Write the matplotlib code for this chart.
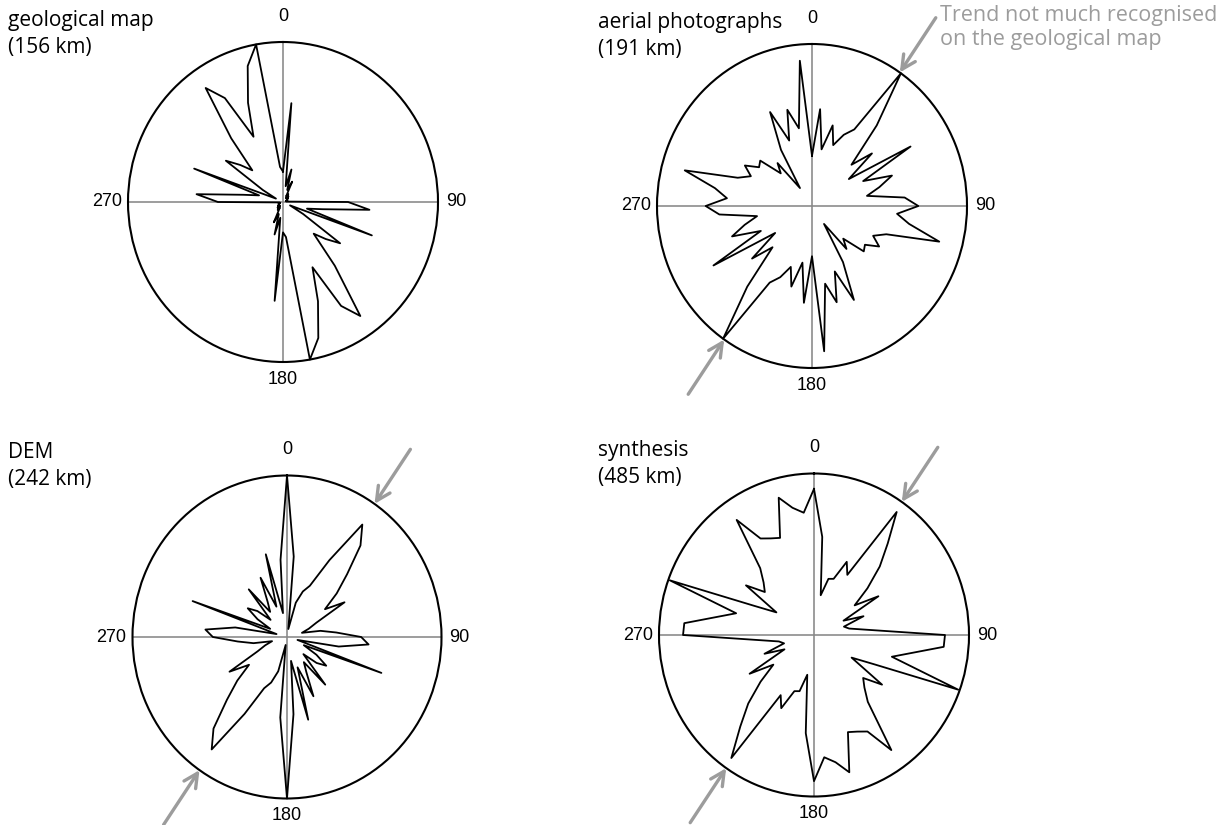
import numpy as np
import matplotlib

matplotlib.use("Agg")
import matplotlib.pyplot as plt

# direction bins (degrees, clockwise from north); roses are bidirectional
direction_bins = [0, 5, 10, 15, 20, 25, 30, 35, 40, 45, 50, 55, 60, 65, 70, 75, 80, 85,
                  90, 95, 100, 105, 110, 115, 120, 125, 130, 135, 140, 145, 150, 155, 160, 165, 170, 175]

# normalised length per bin (outer circle = 1)
geological_map = [0.19, 0.62, 0.10, 0.21, 0.08, 0.14, 0.04, 0.06, 0.03, 0.05, 0.03, 0.04,
                  0.03, 0.03, 0.02, 0.03, 0.02, 0.03, 0.42, 0.56, 0.26, 0.16, 0.61, 0.05,
                  0.15, 0.45, 0.36, 0.28, 0.52, 0.87, 0.75, 0.45, 0.66, 0.88, 1.00, 0.22]
aerial_photographs = [0.31, 0.60, 0.355, 0.515, 0.40, 0.485, 0.546, 1.00, 0.65, 0.36, 0.505, 0.29,
                      0.734, 0.364, 0.549, 0.45, 0.36, 0.60, 0.686, 0.551, 0.636, 0.85, 0.51, 0.435,
                      0.50, 0.417, 0.436, 0.285, 0.346, 0.135, 0.40, 0.64, 0.43, 0.615, 0.487, 0.90]
dem = [1.00, 0.50, 0.05, 0.22, 0.30, 0.35, 0.55, 0.85, 0.74, 0.55, 0.42, 0.30,
       0.43, 0.21, 0.15, 0.10, 0.22, 0.32, 0.48, 0.53, 0.34, 0.07, 0.65, 0.12,
       0.22, 0.31, 0.25, 0.15, 0.385, 0.19, 0.25, 0.405, 0.20, 0.53, 0.15, 0.48]
synthesis = [0.905, 0.61, 0.25, 0.36, 0.37, 0.50, 0.43, 0.93, 0.74, 0.60, 0.45, 0.32,
             0.48, 0.21, 0.34, 0.20, 0.23, 0.36, 0.845, 0.84, 0.64, 0.52, 0.99, 0.43,
             0.28, 0.536, 0.414, 0.46, 0.54, 0.87, 0.69, 0.66, 0.64, 0.88, 0.80, 0.76]

titles = ["geological map\n(156 km)", "aerial photographs\n(191 km)",
          "DEM\n(242 km)", "synthesis\n(485 km)"]
axis_labels = ["0", "90", "180", "270"]
trend_direction = 34.5
trend_note = "Trend not much recognised\non the geological map"

W, H = 1230, 825
GRAY = "#9c9c9c"

fig = plt.figure(figsize=(W / 100, H / 100), dpi=100)

# (values, title, circle centre px, radii px, title pos px, arrows)
panels = [
    (geological_map, titles[0], (283, 202), (155, 160), (8, 10), False),
    (aerial_photographs, titles[1], (812, 206), (155, 162), (598, 12), True),
    (dem, titles[2], (287, 637), (154.5, 161.5), (8, 442), True),
    (synthesis, titles[3], (814, 635), (155, 161.5), (598, 440), True),
]

label_offsets = {"0": (0, 17, "center", "bottom"), "90": (8, 0, "left", "center"),
                 "180": (0, -9, "center", "top"), "270": (-6, 0, "right", "center")}

for values, title, (cx, cy), (rx, ry), (tx, ty), arrows in panels:
    rect = [(cx - rx) / W, 1 - (cy + ry) / H, 2 * rx / W, 2 * ry / H]
    ax = fig.add_axes(rect, projection="polar")
    ax.set_theta_zero_location("N")
    ax.set_theta_direction(-1)
    ax.set_aspect("auto")

    theta = np.deg2rad(direction_bins + [d + 180 for d in direction_bins] + [direction_bins[0]])
    r = values + values + [values[0]]
    ax.plot(theta, r, color="black", lw=1.3, clip_on=False, zorder=3)

    ax.set_ylim(0, 1)
    ax.set_yticks([])
    ax.set_xticks(np.deg2rad([0, 90, 180, 270]))
    ax.set_xticklabels([])
    ax.xaxis.grid(True, color="#8c8c8c", lw=1.2)
    ax.spines["polar"].set_linewidth(1.5)

    for lab, ang in zip(axis_labels, [0, 90, 180, 270]):
        dx, dy, ha, va = label_offsets[lab]
        ax.annotate(lab, xy=(np.deg2rad(ang), 1.0), xytext=(dx, dy),
                    textcoords="offset pixels", ha=ha, va=va,
                    fontsize=13, family="Liberation Sans", annotation_clip=False)

    if arrows:
        for d in (trend_direction, trend_direction + 180):
            ax.annotate("", xy=(np.deg2rad(d), 1.0), xytext=(np.deg2rad(d), 1.41),
                        arrowprops=dict(arrowstyle="->,head_length=1.0,head_width=0.5",
                                        color=GRAY, lw=2.4, shrinkA=0, shrinkB=0),
                        annotation_clip=False)

    fig.text(tx / W, 1 - ty / H, title, ha="left", va="top", fontsize=15,
             family="Open Sans", linespacing=1.35)

fig.text(940 / W, 1 - 5 / H, trend_note, ha="left", va="top", fontsize=15.5,
         family="Open Sans", color=GRAY, linespacing=1.2)

fig.savefig("out.png", dpi=100)
